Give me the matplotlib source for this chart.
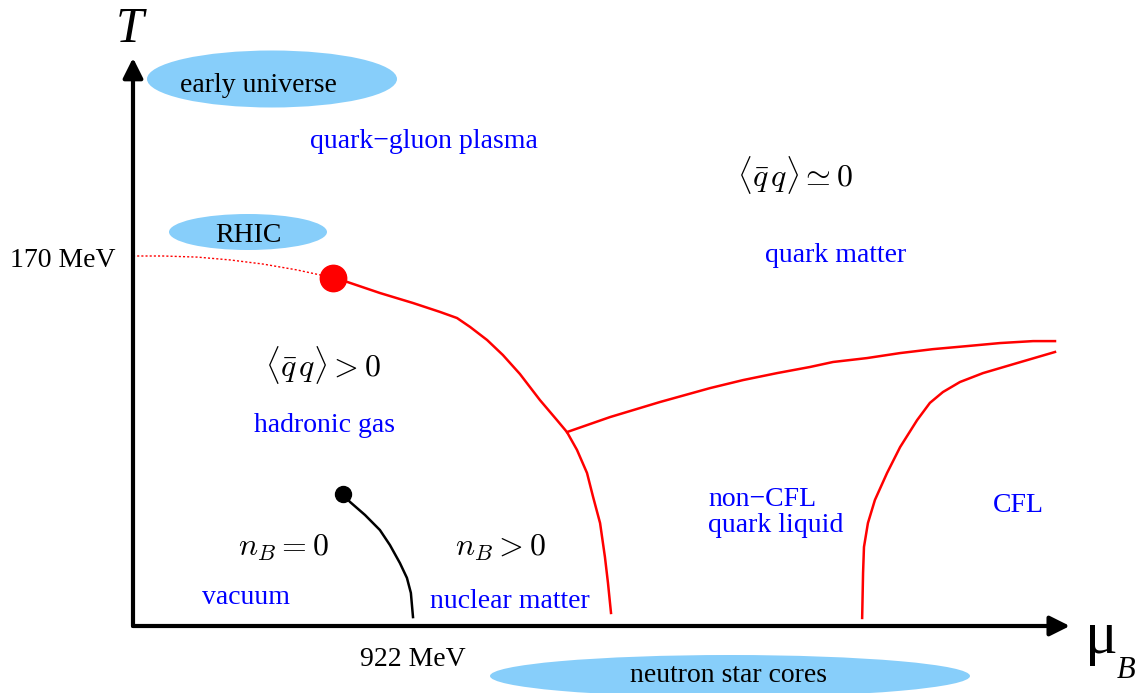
import numpy as np
import matplotlib
matplotlib.use('Agg')
import matplotlib.pyplot as plt
from matplotlib.patches import Ellipse

plt.rcParams['font.family'] = ['Liberation Serif', 'DejaVu Serif']
plt.rcParams['mathtext.fontset'] = 'cm'
plt.rcParams['lines.solid_joinstyle'] = 'round'

# schematic QCD phase diagram, mu_B and T in MeV
crossover_mu = [0, 99, 211, 319, 428, 540, 616, 659]
crossover_T = [170, 170, 169.5, 168.2, 166.3, 163.6, 161.3, 160]

critical_mu, critical_T = 659, 160

hadron_mu = [659, 705, 813, 922, 1011, 1067, 1110, 1166, 1218, 1274, 1340,
             1396, 1429, 1462, 1495, 1515, 1538, 1554, 1564, 1574]
hadron_T = [160, 158.1, 153.0, 148.4, 144.3, 141.5, 137.4, 131.4, 124.5, 115.8,
            103.8, 94.6, 89.1, 80.9, 70.3, 59.3, 47.3, 31.7, 19.8, 6.0]

quark_mu = [1429, 1571, 1735, 1900, 2009, 2121, 2229, 2305, 2417, 2526,
            2634, 2746, 2855, 2964, 3036]
quark_T = [89.1, 96.0, 102.9, 109.3, 113.0, 116.2, 119.0, 121.3, 123.1, 125.4,
           127.2, 128.6, 130.0, 130.9, 130.9]

cfl_mu = [2401, 2404, 2407, 2420, 2443, 2483, 2526, 2582, 2624, 2667, 2723,
          2799, 2911, 3036]
cfl_T = [3.7, 24.4, 36.3, 47.3, 57.9, 70.3, 82.2, 94.6, 102.5, 107.5, 112.1,
         116.2, 120.8, 125.9]

nuclear_mu = [691.5, 714.6, 764, 813, 846, 879, 902, 915, 922]
nuclear_T = [60.6, 57.0, 51.0, 44.1, 37.2, 28.9, 22.1, 15.2, 4.1]

kx = 922 / 280.0   # MeV per pixel along mu
ky = 170 / 370.0   # MeV per pixel along T

fig = plt.figure(figsize=(11.47, 6.93), dpi=100)
ax = fig.add_axes([0, 0, 1, 1])
ax.set_xlim(-133 * kx, (1147 - 133) * kx)
ax.set_ylim(-(693 - 626) * ky, 626 * ky)
ax.axis('off')

sky = '#87cefa'
# experiment regions
for (cx, cy, w, h) in [(272, 79, 250, 57), (248, 232, 158, 36), (730, 676, 480, 42)]:
    ax.add_patch(Ellipse(((cx - 133) * kx, (626 - cy) * ky), w * kx, h * ky,
                         color=sky, lw=0, zorder=1))

# axes arrows
arrow = dict(arrowstyle='-|>', lw=3, color='black', mutation_scale=30, shrinkA=0, shrinkB=0)
ax.annotate('', xy=(0, 261), xytext=(0, 0), arrowprops=arrow, zorder=3)
ax.annotate('', xy=(3085, 0), xytext=(0, 0), arrowprops=arrow, zorder=3)

ax.plot(crossover_mu, crossover_T, color='red', lw=1, ls=(0, (1.5, 1.5)), zorder=2)
ax.plot(hadron_mu, hadron_T, color='red', lw=1.8, zorder=2)
ax.plot(quark_mu, quark_T, color='red', lw=1.8, zorder=2)
ax.plot(cfl_mu, cfl_T, color='red', lw=1.8, zorder=2)
ax.plot(critical_mu, critical_T, 'o', color='red', ms=19, zorder=4)
ax.plot(nuclear_mu, nuclear_T, color='black', lw=1.8, zorder=2)
ax.plot(nuclear_mu[0], nuclear_T[0], 'o', color='black', ms=11.5, zorder=4)


def label(x, y, s, size=20, color='black', ha='center', **kw):
    ax.text((x - 133) * kx, (626 - y) * ky, s, fontsize=size, color=color,
            ha=ha, va='center', zorder=5, **kw)


label(130, 30, 'T', size=36, style='italic')
label(1101, 638, 'μ', size=44)
label(1126, 670, 'B', size=22, style='italic')
label(115, 260, '170 MeV', ha='right')
label(413, 659, '922 MeV')

label(258, 85, 'early universe')
label(248, 235, 'RHIC')
label(728, 675, 'neutron star cores')

blue = '#0000ff'
label(424, 141, 'quark\u2212gluon plasma', color=blue)
label(836, 255, 'quark matter', color=blue)
label(324, 426, 'hadronic gas', color=blue)
label(708, 499, 'non\u2212CFL', color=blue, ha='left')
label(708, 526, 'quark liquid', color=blue, ha='left')
label(1018, 505, 'CFL', color=blue)
label(246, 597, 'vacuum', color=blue)
label(510, 602, 'nuclear matter', color=blue)

label(795, 175, r'$\langle\bar{q}\,q\rangle\simeq0$', size=23)
label(323, 365, r'$\langle\bar{q}\,q\rangle>0$', size=23)
label(283, 548, r'$n_B=0$', size=23)
label(500, 548, r'$n_B>0$', size=23)

fig.savefig('out.png', dpi=100)
